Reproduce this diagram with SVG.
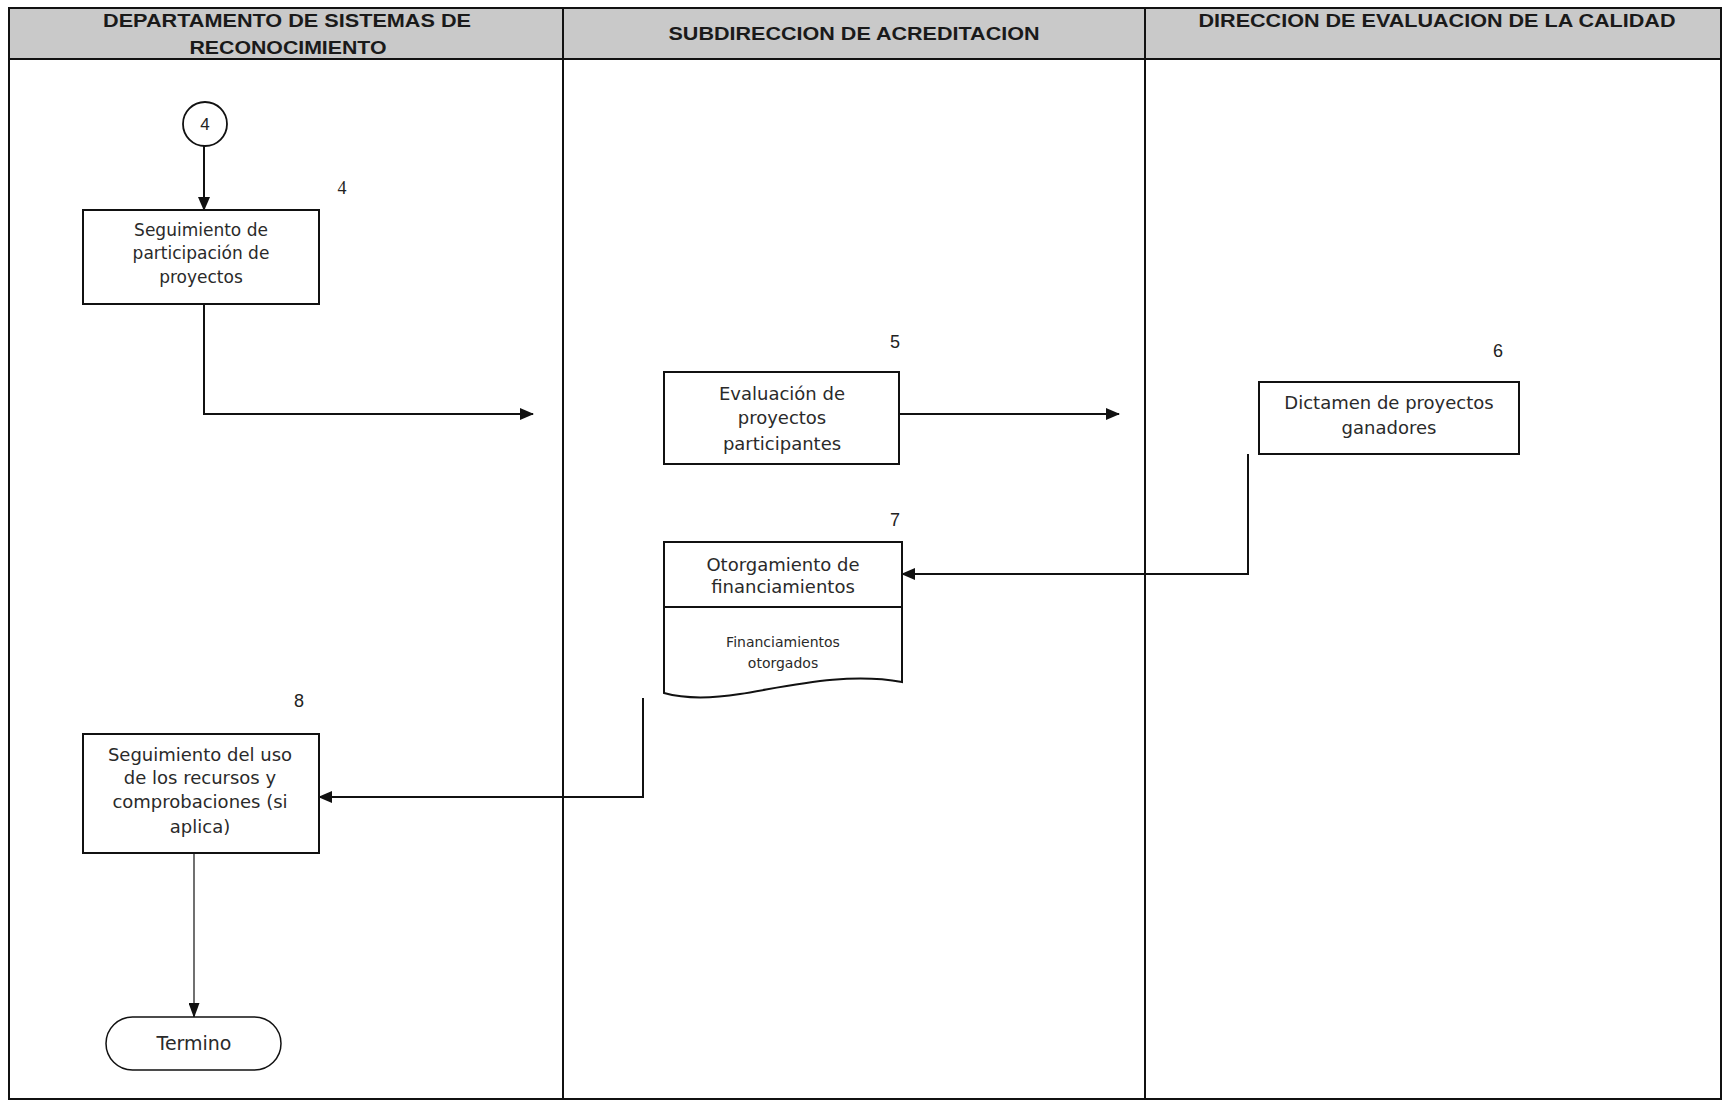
<svg xmlns="http://www.w3.org/2000/svg" width="1724" height="1102" viewBox="0 0 1724 1102">
<style>
.lane{fill:none;stroke:#111;stroke-width:2}
.hdr{fill:#c9c9c9;stroke:#111;stroke-width:2}
.ht{font-family:"Liberation Sans",Arial,sans-serif;font-weight:bold;font-size:19px;fill:#1a1a1a;text-anchor:middle}
.box{fill:#fff;stroke:#111;stroke-width:2}
.t{font-family:"DejaVu Sans",sans-serif;font-size:18px;fill:#2a2a2a;text-anchor:middle}
.ts{font-family:"DejaVu Sans",sans-serif;font-size:14px;fill:#2a2a2a;text-anchor:middle}
.num{font-family:"Liberation Sans",Arial,sans-serif;font-size:18px;fill:#222;text-anchor:middle}
.c{fill:none;stroke:#111;stroke-width:2}
.cthin{fill:none;stroke:#111;stroke-width:1.2}
</style>
<defs>
<marker id="ah" markerUnits="userSpaceOnUse" markerWidth="14" markerHeight="12" refX="13" refY="6" orient="auto">
<path d="M0,0 L14,6 L0,12 Z" fill="#111"/>
</marker>
<marker id="ahs" markerUnits="userSpaceOnUse" markerWidth="15" markerHeight="11" refX="14" refY="5.5" orient="auto">
<path d="M0,0 L15,5.5 L0,11 Z" fill="#111"/>
</marker>
</defs>
<rect x="0" y="0" width="1724" height="1102" fill="#fff"/>
<g id="lanes">
<rect class="hdr" x="9" y="8" width="1712" height="51"/>
<rect class="lane" x="9" y="8" width="1712" height="1091"/>
<line class="lane" x1="563" y1="8" x2="563" y2="1099"/>
<line class="lane" x1="1145" y1="8" x2="1145" y2="1099"/>
<text class="ht" x="287" y="27" textLength="368" lengthAdjust="spacingAndGlyphs">DEPARTAMENTO DE SISTEMAS DE</text>
<text class="ht" x="288" y="54" textLength="197" lengthAdjust="spacingAndGlyphs">RECONOCIMIENTO</text>
<text class="ht" x="854" y="40" textLength="371" lengthAdjust="spacingAndGlyphs">SUBDIRECCION DE ACREDITACION</text>
<text class="ht" x="1437" y="27" textLength="477" lengthAdjust="spacingAndGlyphs">DIRECCION DE EVALUACION DE LA CALIDAD</text>
</g>
<g id="connectors">
<path class="c" d="M204,146 V210" marker-end="url(#ah)"/>
<path class="c" d="M204,304 V414 H533" marker-end="url(#ah)"/>
<path class="c" d="M899,414 H1119" marker-end="url(#ah)"/>
<path class="c" d="M1248,454 V574 H902" marker-end="url(#ah)"/>
<path class="c" d="M643,698 V797 H319" marker-end="url(#ah)"/>
<path class="cthin" d="M194,853 V1017" marker-end="url(#ahs)"/>
</g>
<g id="n-conector4">
<circle cx="205" cy="124" r="22" fill="#fff" stroke="#111" stroke-width="1.8"/>
<text class="num" x="205" y="130" style="font-size:17px">4</text>
</g>
<g id="n4">
<rect class="box" x="83" y="210" width="236" height="94"/>
<text class="t" style="font-size:17px" x="201" y="236">Seguimiento de</text>
<text class="t" style="font-size:17px" x="201" y="259">participación de</text>
<text class="t" style="font-size:17px" x="201" y="283">proyectos</text>
<text x="342" y="194" style="font-family:'Liberation Serif',serif;font-size:18px;fill:#222" text-anchor="middle">4</text>
</g>
<g id="n5">
<rect class="box" x="664" y="372" width="235" height="92"/>
<text class="t" x="782" y="400">Evaluación de</text>
<text class="t" x="782" y="424">proyectos</text>
<text class="t" x="782" y="450">participantes</text>
<text class="num" x="895" y="348">5</text>
</g>
<g id="n6">
<rect class="box" x="1259" y="382" width="260" height="72"/>
<text class="t" x="1389" y="409">Dictamen de proyectos</text>
<text class="t" x="1389" y="434">ganadores</text>
<text class="num" x="1498" y="357">6</text>
</g>
<g id="n7">
<path class="box" d="M664,542 H902 V682 C846,672 790,686 740,694 C708,699 682,698 664,693 Z"/>
<line x1="664" y1="607" x2="902" y2="607" stroke="#111" stroke-width="2"/>
<text class="t" x="783" y="571">Otorgamiento de</text>
<text class="t" x="783" y="593">financiamientos</text>
<text class="ts" x="783" y="647">Financiamientos</text>
<text class="ts" x="783" y="668">otorgados</text>
<text class="num" x="895" y="526">7</text>
</g>
<g id="n8">
<rect class="box" x="83" y="734" width="236" height="119"/>
<text class="t" x="200" y="761">Seguimiento del uso</text>
<text class="t" x="200" y="784">de los recursos y</text>
<text class="t" x="200" y="808">comprobaciones (si</text>
<text class="t" x="200" y="833">aplica)</text>
<text class="num" x="299" y="707">8</text>
</g>
<g id="n-termino">
<rect x="106" y="1017" width="175" height="53" rx="26.5" ry="26.5" fill="#fff" stroke="#111" stroke-width="1.5"/>
<text class="t" style="font-size:19px" x="194" y="1050">Termino</text>
</g>
</svg>
